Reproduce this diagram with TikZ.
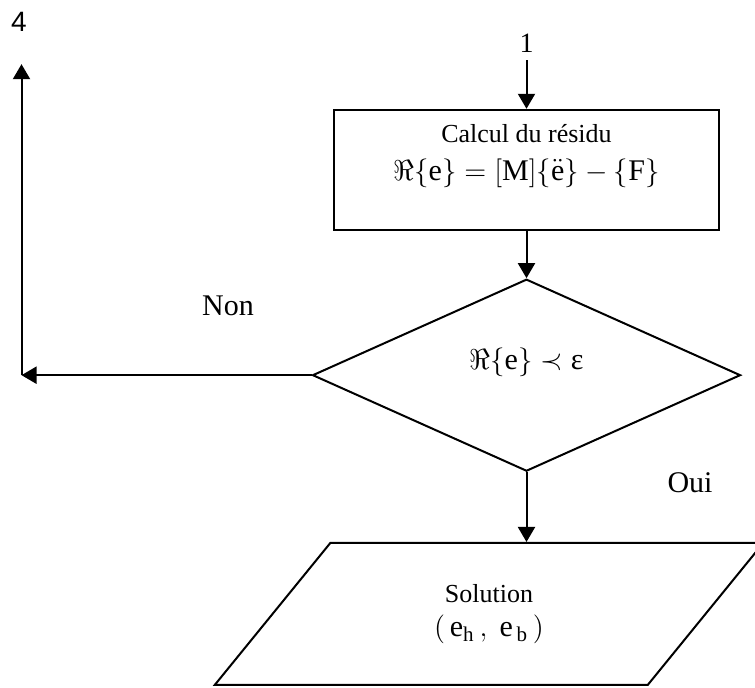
\documentclass[tikz,border=0pt]{standalone}
\usepackage{fontspec}
\setmainfont{Liberation Serif}
\setsansfont{Liberation Sans}
\usetikzlibrary{arrows.meta,calc,shapes.geometric}

\begin{document}
\begin{tikzpicture}[
  x=1pt, y=1pt,
  font=\fontsize{13}{15}\selectfont,
  >={Triangle[length=7.5pt, width=8.5pt]},
  block/.style={draw, line width=1.2pt, minimum width=192.5pt, minimum height=60pt, inner sep=0pt, align=center, text depth=18pt},
  decision/.style={diamond, draw, line width=1pt, minimum width=214pt, minimum height=96pt, inner sep=0pt, aspect=2.2, text depth=17pt},
  io/.style={trapezium, trapezium left angle=56, trapezium right angle=124, trapezium stretches=true, draw, line width=1pt, minimum width=275.5pt, minimum height=71pt, inner sep=0pt, align=center},
  flow/.style={->, line width=1pt},
  tag/.style={font=\fontsize{15}{17}\selectfont, inner sep=0pt},
  connector/.style={font=\fontsize{14}{16}\selectfont, inner sep=4pt}
]
\def\eqfont{\fontsize{15}{17}\selectfont}
\useasboundingbox (0,0) rectangle (377.5,344);
\clip (0,0) rectangle (377.5,344);

% Calcul du residu
\node[block] (calc) at (263.25,259) {Calcul du résidu\\[4pt]{\eqfont $\Re\Bigl\{\mathrm{e}\Bigr\}=\Bigl[\mathrm{M}\Bigr]\Bigl\{\ddot{\mathrm{e}}\Bigr\}-\Bigl\{\mathrm{F}\Bigr\}$}};
\node[connector] (in1) at ($(calc.north)+(0,33)$) {1};
\draw[flow] (in1.south) -- (calc.north);

% Test de convergence
\node[decision] (test) at ($(calc.south)+(0,-72)$) {\eqfont $\Re\Bigl\{\mathrm{e}\Bigr\}\prec\mbox{ε}$};
\draw[flow] (calc.south) -- (test.north);

% Non : retour vers 4
\node[tag] (non) at (114,191) {Non};
\coordinate (corner) at ($(test.west)+(-145,0)$);
\coordinate (back) at ($(corner)+(0,155.5)$);
\node[connector, font=\sffamily\fontsize{14}{16}\selectfont, inner sep=2pt] (out4) at (9.5,333) {4};
\draw[flow] (test.west) -- (corner);
\draw[flow] (corner) -- (back);

% Oui : solution
\node[tag] (oui) at (345,102.5) {Oui};
\node[io] (sol) at (244.5,37) {Solution\\[2pt]{\eqfont $(\,\mathrm{e}_{\mathrm{h}}\,,\ \mathrm{e}_{\,\mathrm{b}}\,)$}};
\draw[flow] (test.south) -- (test.south |- sol.north);

\end{tikzpicture}
\end{document}
